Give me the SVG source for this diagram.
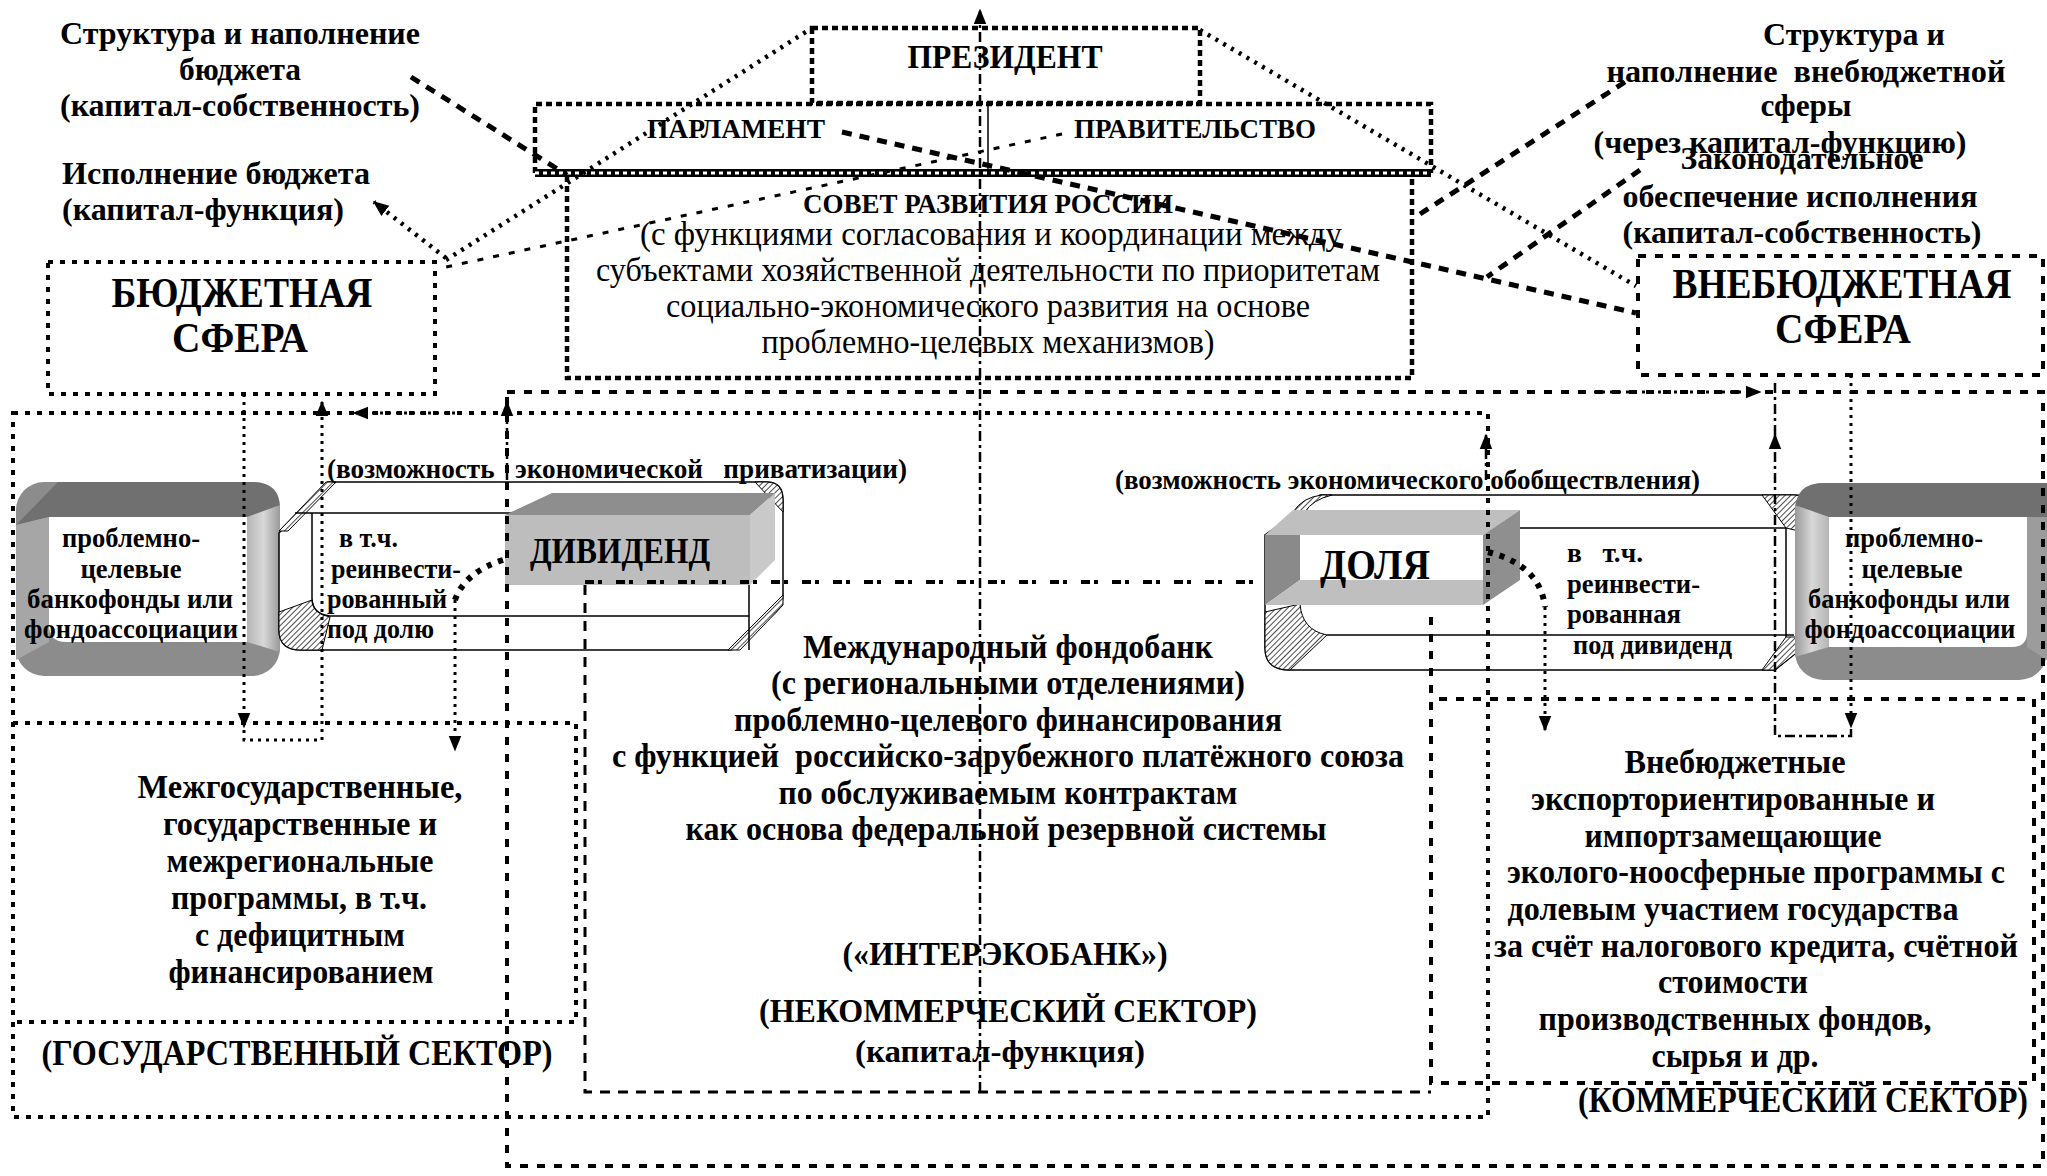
<svg xmlns="http://www.w3.org/2000/svg" width="2047" height="1176" viewBox="0 0 2047 1176">
<defs>
<style>
text{font-family:"Liberation Serif","Times New Roman",serif;font-weight:bold;fill:#000}
.m{text-anchor:middle}
.n{font-weight:normal}
.s26{font-size:28px}.s27{font-size:28px}.s30{font-size:32px}.s31{font-size:33px}.s32{font-size:33px}.s33{font-size:35px}.s40{font-size:42px}
.fr{fill:none;stroke:#000}
.hatch{stroke-width:4;stroke-dasharray:5 7}
.sq{stroke-width:4.5;stroke-dasharray:6 4}
.sl{stroke-width:4;stroke-dasharray:8 9}
.ncb{stroke-width:3;stroke-dasharray:10 8}
.topdot{stroke-width:4;stroke-dasharray:9 4 4 14}
.dot{fill:none;stroke:#000;stroke-width:3;stroke-dasharray:3 5}
.dd{fill:none;stroke:#000;stroke-width:2.5;stroke-dasharray:10 4 3 4}
.tdot{fill:none;stroke:#000;stroke-width:4.5;stroke-dasharray:3 6}
.bdot{fill:none;stroke:#000;stroke-width:6;stroke-dasharray:5 7}
.slash{fill:none;stroke:#000;stroke-width:5;stroke-dasharray:10 8}
.thin{fill:none;stroke:#000;stroke-width:3;stroke-dasharray:6 10}
.ol{fill:#fff;stroke:#000;stroke-width:1.5}
.ln{fill:none;stroke:#000;stroke-width:1.5}
.hp{fill:url(#hp);stroke:#000;stroke-width:1}
</style>
<pattern id="hp" width="4" height="4" patternUnits="userSpaceOnUse" patternTransform="rotate(45)">
<rect width="4" height="4" fill="#fff"/><line x1="0" y1="0" x2="0" y2="4" stroke="#000" stroke-width="1.4"/>
</pattern>
<linearGradient id="gSideL" x1="0" y1="0" x2="1" y2="0">
<stop offset="0" stop-color="#b5b5b5"/><stop offset="0.5" stop-color="#d8d8d8"/><stop offset="1" stop-color="#9a9a9a"/>
</linearGradient>
<linearGradient id="gSideR" x1="0" y1="0" x2="1" y2="0">
<stop offset="0" stop-color="#9a9a9a"/><stop offset="0.5" stop-color="#d8d8d8"/><stop offset="1" stop-color="#b5b5b5"/>
</linearGradient>
<marker id="ah" viewBox="0 0 10 10" refX="9" refY="5" markerWidth="16" markerHeight="16" orient="auto" markerUnits="userSpaceOnUse">
<path d="M0,1 L10,5 L0,9 Z" fill="#000"/>
</marker>
</defs>
<rect width="2047" height="1176" fill="#fff"/>

<!-- left banking fund -->
<g id="fund-left">
<rect x="16" y="482" width="264" height="194" rx="28" fill="#8c8c8c"/>
<path d="M16,525 L58,482 L252,482 Q280,482 280,508 L280,520 L247,517 L49,517 Z" fill="#707070"/>
<path d="M16,525 L49,517 L49,642 L16,660 Z" fill="#a6a6a6"/>
<path d="M247,517 L280,505 L280,652 L247,642 Z" fill="url(#gSideL)"/>
<path d="M49,517 L247,517 L247,642 L66,642 Q49,642 49,625 Z" fill="#fff"/>
<text class="s26 m" x="131" y="547" textLength="138" lengthAdjust="spacingAndGlyphs">проблемно-</text>
<text class="s26 m" x="131" y="578" textLength="101" lengthAdjust="spacingAndGlyphs">целевые</text>
<text class="s26 m" x="130" y="608" textLength="206" lengthAdjust="spacingAndGlyphs">банкофонды или</text>
<text class="s26 m" x="131" y="638" textLength="214" lengthAdjust="spacingAndGlyphs">фондоассоциации</text>
</g>

<!-- left tube with dividend -->
<g id="tube-left">
<path class="ol" d="M328,482 L767,482 Q783,482 783,500 L783,595 Q783,605 776,612 L740,645 Q735,650 728,650 L301,650 Q279,650 279,630 L279,533 Z"/>
<path class="hp" d="M279,531 L326,482 L336,482 L288,531 Z"/>
<path class="hp" d="M279,612 L312,600 Q313,614 330,617 L322,650 L301,650 Q279,650 279,630 Z"/>
<path class="hp" d="M755,482 L767,482 Q783,482 783,500 L783,512 Z"/>
<path class="hp" d="M783,595 L783,605 L740,650 L728,650 Z"/>
<path class="ln" d="M295,513 L749,513 M330,616 L749,616 M312,513 L312,598 Q312,614 330,616 M749,513 L749,650"/>
<text class="s26" x="339" y="547" textLength="59" lengthAdjust="spacingAndGlyphs">в т.ч.</text>
<text class="s26" x="331" y="578" textLength="130" lengthAdjust="spacingAndGlyphs">реинвести-</text>
<text class="s26" x="327" y="608" textLength="120" lengthAdjust="spacingAndGlyphs">рованный</text>
<text class="s26" x="327" y="638" textLength="107" lengthAdjust="spacingAndGlyphs">под долю</text>
</g>
<g id="dividend">
<polygon points="505,515 552,493 775,493 750,515" fill="#8e8e8e"/>
<polygon points="750,515 775,493 775,560 750,585" fill="#c9c9c9"/>
<rect x="505" y="515" width="245" height="70" fill="#bdbdbd"/>
<text class="s33 m" x="620" y="563" textLength="180" lengthAdjust="spacingAndGlyphs">ДИВИДЕНД</text>
</g>

<!-- right tube with share -->
<g id="tube-right">
<path class="ol" d="M1320,495 L1794,495 Q1816,495 1816,513 L1816,637 L1775,670 L1290,670 Q1265,670 1265,648 L1265,535 Z"/>
<path class="hp" d="M1293,512 Q1303,497 1322,495 L1332,495 Q1312,500 1305,512 Z"/>
<path class="hp" d="M1265,612 L1300,604 Q1302,630 1327,635 L1290,670 Q1265,670 1265,648 Z"/>
<path class="hp" d="M1762,495 L1794,495 Q1816,495 1816,513 L1816,535 L1786,528 Z"/>
<path class="hp" d="M1786,637 L1816,637 L1775,670 L1762,670 Z"/>
<path class="ln" d="M1520,528 L1786,528 M1327,635 L1794,635 M1786,528 L1786,637"/>
<text class="s26" x="1567" y="562" textLength="76" lengthAdjust="spacingAndGlyphs" xml:space="preserve">в   т.ч.</text>
<text class="s26" x="1567" y="593" textLength="133" lengthAdjust="spacingAndGlyphs">реинвести-</text>
<text class="s26" x="1567" y="623" textLength="114" lengthAdjust="spacingAndGlyphs">рованная</text>
<text class="s26" x="1573" y="654" textLength="159" lengthAdjust="spacingAndGlyphs">под дивиденд</text>
</g>
<g id="share">
<polygon points="1265,535 1293,510 1520,510 1483,535" fill="#bfbfbf"/>
<polygon points="1265,535 1300,535 1300,580 1265,605" fill="#8a8a8a"/>
<rect x="1300" y="535" width="183" height="45" fill="#fff"/>
<polygon points="1265,605 1300,580 1483,580 1483,605" fill="#bfbfbf"/>
<polygon points="1483,535 1520,510 1520,580 1483,605" fill="#8f8f8f"/>
<text class="s40 m" x="1375" y="579" textLength="110" lengthAdjust="spacingAndGlyphs">ДОЛЯ</text>
</g>

<!-- right banking fund -->
<g id="fund-right">
<rect x="1795" y="483" width="252" height="197" rx="28" fill="#8c8c8c"/>
<path d="M1795,512 Q1795,483 1823,483 L2047,483 L2047,517 L1829,517 Z" fill="#707070"/>
<path d="M1795,505 L1829,517 L1829,647 L1795,657 Z" fill="url(#gSideR)"/>
<path d="M2027,517 L2047,517 L2047,660 L2027,647 Z" fill="#9c9c9c"/>
<path d="M1829,517 L2027,517 L2027,632 Q2027,647 2012,647 L1829,647 Z" fill="#fff"/>
<text class="s26 m" x="1914" y="547" textLength="138" lengthAdjust="spacingAndGlyphs">проблемно-</text>
<text class="s26 m" x="1912" y="578" textLength="101" lengthAdjust="spacingAndGlyphs">целевые</text>
<text class="s26 m" x="1909" y="608" textLength="202" lengthAdjust="spacingAndGlyphs">банкофонды или</text>
<text class="s26 m" x="1910" y="638" textLength="211" lengthAdjust="spacingAndGlyphs">фондоассоциации</text>
</g>

<!-- sector frames -->
<g id="state-sector">
<rect class="fr hatch" x="13" y="413" width="1475" height="704"/>
<text class="s33 m" x="297" y="1065" textLength="511" lengthAdjust="spacingAndGlyphs">(ГОСУДАРСТВЕННЫЙ СЕКТОР)</text>
</g>
<g id="commercial-sector">
<rect class="fr sl" x="507" y="392" width="1536" height="774"/>
<text class="s33 m" x="1803" y="1112" textLength="450" lengthAdjust="spacingAndGlyphs">(КОММЕРЧЕСКИЙ СЕКТОР)</text>
</g>

<g id="state-programs">
<path class="fr hatch" d="M13,723 L576,723 L576,1022 L13,1022"/>
<text class="s31 m" x="300" y="798" textLength="325" lengthAdjust="spacingAndGlyphs">Межгосударственные,</text>
<text class="s31 m" x="300" y="835" textLength="274" lengthAdjust="spacingAndGlyphs">государственные и</text>
<text class="s31 m" x="300" y="872" textLength="267" lengthAdjust="spacingAndGlyphs">межрегиональные</text>
<text class="s31 m" x="299" y="909" textLength="256" lengthAdjust="spacingAndGlyphs">программы, в т.ч.</text>
<text class="s31 m" x="300" y="946" textLength="210" lengthAdjust="spacingAndGlyphs">с дефицитным</text>
<text class="s31 m" x="301" y="983" textLength="265" lengthAdjust="spacingAndGlyphs">финансированием</text>
</g>

<g id="fund-bank">
<path class="fr ncb" d="M585,585 L585,1092 L1431,1092"/>
<path class="fr topdot" d="M585,582 L1265,582"/>
<text class="s31 m" x="1008" y="658" textLength="410" lengthAdjust="spacingAndGlyphs">Международный фондобанк</text>
<text class="s31 m" x="1008" y="694" textLength="474" lengthAdjust="spacingAndGlyphs">(с региональными отделениями)</text>
<text class="s31 m" x="1008" y="731" textLength="548" lengthAdjust="spacingAndGlyphs">проблемно-целевого финансирования</text>
<text class="s31 m" x="1008" y="767" textLength="792" lengthAdjust="spacingAndGlyphs" xml:space="preserve">с функцией  российско-зарубежного платёжного союза</text>
<text class="s31 m" x="1008" y="804" textLength="459" lengthAdjust="spacingAndGlyphs">по обслуживаемым контрактам</text>
<text class="s31 m" x="1006" y="840" textLength="641" lengthAdjust="spacingAndGlyphs">как основа федеральной резервной системы</text>
<text class="s31 m" x="1005" y="965" textLength="325" lengthAdjust="spacingAndGlyphs">(«ИНТЕРЭКОБАНК»)</text>
<text class="s31 m" x="1008" y="1022" textLength="498" lengthAdjust="spacingAndGlyphs">(НЕКОММЕРЧЕСКИЙ СЕКТОР)</text>
<text class="s30 m" x="1000" y="1062" textLength="290" lengthAdjust="spacingAndGlyphs">(капитал-функция)</text>
</g>

<g id="offbudget-programs">
<path class="fr sl" d="M1431,617 L1431,1083 L2034,1083 L2034,699 L1431,699"/>
<text class="s31 m" x="1735" y="773" textLength="221" lengthAdjust="spacingAndGlyphs">Внебюджетные</text>
<text class="s31 m" x="1733" y="810" textLength="404" lengthAdjust="spacingAndGlyphs">экспорториентированные и</text>
<text class="s31 m" x="1733" y="847" textLength="297" lengthAdjust="spacingAndGlyphs">импортзамещающие</text>
<text class="s31 m" x="1756" y="883" textLength="498" lengthAdjust="spacingAndGlyphs">эколого-ноосферные программы с</text>
<text class="s31 m" x="1733" y="920" textLength="451" lengthAdjust="spacingAndGlyphs">долевым участием государства</text>
<text class="s31 m" x="1756" y="957" textLength="524" lengthAdjust="spacingAndGlyphs">за счёт налогового кредита, счётной</text>
<text class="s31 m" x="1733" y="993" textLength="150" lengthAdjust="spacingAndGlyphs">стоимости</text>
<text class="s31 m" x="1735" y="1030" textLength="393" lengthAdjust="spacingAndGlyphs">производственных фондов,</text>
<text class="s31 m" x="1735" y="1067" textLength="167" lengthAdjust="spacingAndGlyphs">сырья и др.</text>
</g>

<!-- top nodes -->
<g id="budget-sphere">
<rect class="fr hatch" x="48" y="262" width="387" height="132"/>
<text class="s40 m" x="242" y="307" textLength="261" lengthAdjust="spacingAndGlyphs">БЮДЖЕТНАЯ</text>
<text class="s40 m" x="240" y="352" textLength="136" lengthAdjust="spacingAndGlyphs">СФЕРА</text>
</g>
<g id="offbudget-sphere">
<rect class="fr sl" x="1638" y="256" width="405" height="119"/>
<text class="s40 m" x="1842" y="298" textLength="339" lengthAdjust="spacingAndGlyphs">ВНЕБЮДЖЕТНАЯ</text>
<text class="s40 m" x="1843" y="343" textLength="136" lengthAdjust="spacingAndGlyphs">СФЕРА</text>
</g>
<g id="president">
<rect class="fr sq" x="812" y="28" width="388" height="75"/>
<text class="s32 m" x="1005" y="68" textLength="195" lengthAdjust="spacingAndGlyphs">ПРЕЗИДЕНТ</text>
</g>
<g id="parliament-government">
<path class="fr sq" d="M535,173 L535,104 L1431,104 L1431,173"/>
<path d="M535,173 L1431,173" stroke="#000" stroke-width="8" fill="none"/>
<path d="M535,173 L1431,173" stroke="#fff" stroke-width="3" stroke-dasharray="4 4" fill="none"/>
<path class="ln" d="M988,104 L988,170"/>
<text class="s27 m" x="736" y="138" textLength="178" lengthAdjust="spacingAndGlyphs">ПАРЛАМЕНТ</text>
<text class="s27 m" x="1195" y="138" textLength="242" lengthAdjust="spacingAndGlyphs">ПРАВИТЕЛЬСТВО</text>
</g>
<g id="council">
<path class="fr sq" d="M567,176 L567,378 L1412,378 L1412,176"/>
<text class="s27 m" x="988" y="213" textLength="370" lengthAdjust="spacingAndGlyphs">СОВЕТ РАЗВИТИЯ РОССИИ</text>
<text class="s31 m n" x="991" y="245" textLength="702" lengthAdjust="spacingAndGlyphs">(с функциями согласования и координации между</text>
<text class="s31 m n" x="988" y="281" textLength="784" lengthAdjust="spacingAndGlyphs">субъектами хозяйственной деятельности по приоритетам</text>
<text class="s31 m n" x="988" y="317" textLength="644" lengthAdjust="spacingAndGlyphs">социально-экономического развития на основе</text>
<text class="s31 m n" x="988" y="353" textLength="453" lengthAdjust="spacingAndGlyphs">проблемно-целевых механизмов)</text>
</g>

<!-- free labels -->
<g id="label-budget">
<text class="s30 m" x="240" y="44" textLength="360" lengthAdjust="spacingAndGlyphs">Структура и наполнение</text>
<text class="s30 m" x="240" y="80" textLength="122" lengthAdjust="spacingAndGlyphs">бюджета</text>
<text class="s30 m" x="240" y="116" textLength="360" lengthAdjust="spacingAndGlyphs">(капитал-собственность)</text>
<text class="s30" x="62" y="184" textLength="308" lengthAdjust="spacingAndGlyphs">Исполнение бюджета</text>
<text class="s30" x="62" y="220" textLength="282" lengthAdjust="spacingAndGlyphs">(капитал-функция)</text>
</g>
<g id="label-offbudget">
<text class="s30 m" x="1854" y="45" textLength="182" lengthAdjust="spacingAndGlyphs">Структура и</text>
<text class="s30 m" x="1806" y="82" textLength="399" lengthAdjust="spacingAndGlyphs" xml:space="preserve">наполнение  внебюджетной</text>
<text class="s30 m" x="1806" y="116" textLength="91" lengthAdjust="spacingAndGlyphs">сферы</text>
<text class="s30 m" x="1780" y="153" textLength="373" lengthAdjust="spacingAndGlyphs">(через капитал-функцию)</text>
<text class="s30 m" x="1802" y="169" textLength="243" lengthAdjust="spacingAndGlyphs">Законодательное</text>
<text class="s30 m" x="1800" y="207" textLength="355" lengthAdjust="spacingAndGlyphs">обеспечение исполнения</text>
<text class="s30 m" x="1802" y="243" textLength="359" lengthAdjust="spacingAndGlyphs">(капитал-собственность)</text>
</g>
<g id="label-privatization">
<text class="s26" x="327" y="478" textLength="580" lengthAdjust="spacingAndGlyphs" xml:space="preserve">(возможность   экономической   приватизации)</text>
</g>
<g id="label-socialization">
<text class="s26" x="1115" y="489" textLength="585" lengthAdjust="spacingAndGlyphs">(возможность экономического обобществления)</text>
</g>

<!-- connectors -->
<g id="connectors">
<path class="dd" d="M980,1092 L980,10" marker-end="url(#ah)"/>
<path class="tdot" d="M446,260 L812,28"/>
<path class="tdot" d="M446,258 L374,202" marker-end="url(#ah)"/>
<path class="slash" d="M411,77 L567,175"/>
<path class="thin" d="M1062,134 L446,267"/>
<path class="slash" d="M842,132 L1636,313"/>
<path class="tdot" d="M1200,30 L1636,286"/>
<path class="slash" d="M1625,82 L1420,214"/>
<path class="slash" d="M1640,170 L1487,277"/>
<path class="dot" d="M244,394 L244,727" marker-end="url(#ah)"/>
<path class="dot" d="M244,730 L244,740 L322,740 L322,402" marker-end="url(#ah)"/>
<path class="dot" d="M455,413 L354,413" marker-end="url(#ah)"/>
<path class="bdot" d="M503,560 Q465,572 455,600"/>
<path class="dot" d="M455,600 L455,750" marker-end="url(#ah)"/>
<path class="dd" d="M507,480 L507,402" marker-end="url(#ah)"/>
<path class="dot" d="M1851,375 L1851,727" marker-end="url(#ah)"/>
<path class="dd" d="M1851,729 L1851,736 L1775,736 L1775,435" marker-end="url(#ah)"/>
<path class="dd" d="M1775,435 L1775,380"/>
<path class="dot" d="M1594,392 L1760,392" marker-end="url(#ah)"/>
<path class="bdot" d="M1488,552 Q1540,565 1545,607"/>
<path class="dot" d="M1545,607 L1545,730" marker-end="url(#ah)"/>
<path class="dd" d="M1486,480 L1486,435" marker-end="url(#ah)"/>
</g>
</svg>
